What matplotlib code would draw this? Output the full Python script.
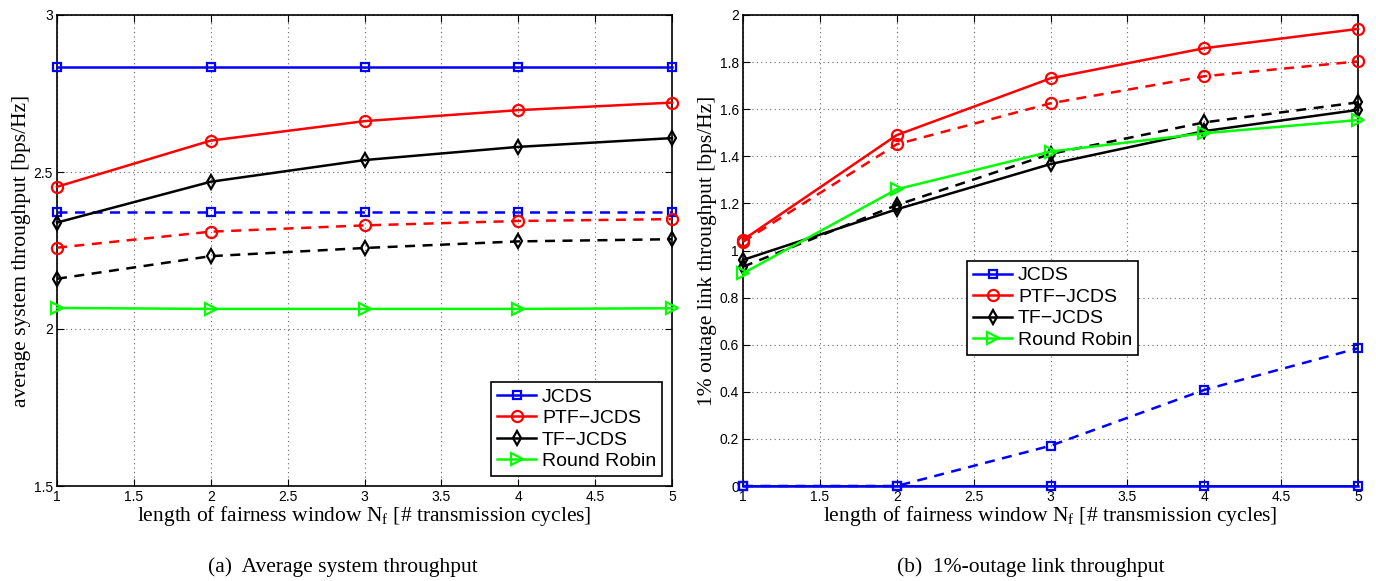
import matplotlib
matplotlib.use("Agg")
import matplotlib.pyplot as plt

plt.rcParams['font.family'] = ['Liberation Sans', 'DejaVu Sans']
plt.rcParams['mathtext.fontset'] = 'custom'
plt.rcParams['mathtext.rm'] = 'Liberation Serif'
plt.rcParams['mathtext.it'] = 'Liberation Serif:italic'

nf = [1, 2, 3, 4, 5]

# (a) average system throughput
avg_jcds = [2.835, 2.835, 2.835, 2.835, 2.835]
avg_jcds_d = [2.373, 2.373, 2.373, 2.373, 2.373]
avg_ptf = [2.453, 2.600, 2.662, 2.697, 2.721]
avg_ptf_d = [2.259, 2.310, 2.330, 2.344, 2.350]
avg_tf = [2.339, 2.469, 2.538, 2.580, 2.608]
avg_tf_d = [2.160, 2.232, 2.258, 2.279, 2.286]
avg_rr = [2.067, 2.064, 2.064, 2.064, 2.066]

# (b) 1%-outage link throughput
out_jcds = [0, 0, 0, 0, 0]
out_jcds_d = [0, 0, 0.171, 0.408, 0.585]
out_ptf = [1.045, 1.490, 1.731, 1.859, 1.941]
out_ptf_d = [1.037, 1.451, 1.625, 1.740, 1.803]
out_tf = [0.960, 1.175, 1.367, 1.507, 1.597]
out_tf_d = [0.931, 1.193, 1.410, 1.544, 1.629]
out_rr = [0.903, 1.260, 1.420, 1.498, 1.554]

names = ['JCDS', 'PTF\u2212JCDS', 'TF\u2212JCDS', 'Round Robin']
colors = ['#0000ff', '#ff0000', '#000000', '#00ff00']
markers = ['s', 'o', 'd', '>']
msizes = [6, 8, 7, 8]

serif = 'Liberation Serif'
xlab = r'length of fairness window N$_\mathrm{f}$ [# transmission cycles]'

fig = plt.figure(figsize=(13.76, 5.81), dpi=100)
ax1 = fig.add_axes([57 / 1376, 1 - 486 / 581, 615 / 1376, 471 / 581])
ax2 = fig.add_axes([743 / 1376, 1 - 486 / 581, 615 / 1376, 471 / 581])


def draw(ax, solid, dashed):
    handles = []
    for i in range(4):
        h, = ax.plot(nf, solid[i], color=colors[i], marker=markers[i], ms=msizes[i],
                     mfc='none', mew=1.6, lw=1.8, label=names[i], clip_on=False, zorder=3)
        handles.append(h)
        if dashed[i] is not None:
            ax.plot(nf, dashed[i], color=colors[i], marker=markers[i], ms=msizes[i],
                    mfc='none', mew=1.6, lw=1.8, ls=(0, (4, 3)), clip_on=False, zorder=3)
    ax.set_xlim(1, 5)
    ax.set_xticks([1, 1.5, 2, 2.5, 3, 3.5, 4, 4.5, 5])
    ax.set_xticklabels(['1', '1.5', '2', '2.5', '3', '3.5', '4', '4.5', '5'])
    ax.grid(True, ls=(0, (1, 3)), color='#666666', lw=0.8)
    ax.tick_params(direction='in', top=True, right=True, labelsize=10, length=5, pad=3)
    for s in ax.spines.values():
        s.set_linewidth(1.2)
    ax.set_xlabel(xlab, family=serif, fontsize=15.5, labelpad=0)
    return handles


h1 = draw(ax1, [avg_jcds, avg_ptf, avg_tf, avg_rr], [avg_jcds_d, avg_ptf_d, avg_tf_d, None])
ax1.set_ylim(1.5, 3)
ax1.set_yticks([1.5, 2, 2.5, 3])
ax1.set_yticklabels(['1.5', '2', '2.5', '3'])
ax1.set_ylabel('average system throughput [bps/Hz]', family=serif, fontsize=15.5, labelpad=2)
leg1 = ax1.legend(handles=h1, loc='lower right', bbox_to_anchor=(0.9837, 0.0212),
                  borderaxespad=0, fontsize=14, fancybox=False,
                  edgecolor='black', framealpha=1, handlelength=2.0, borderpad=0.3,
                  labelspacing=0.2, handletextpad=0.3)
leg1.get_frame().set_linewidth(1.2)

h2 = draw(ax2, [out_jcds, out_ptf, out_tf, out_rr], [out_jcds_d, out_ptf_d, out_tf_d, None])
ax2.set_ylim(0, 2)
ax2.set_yticks([0, 0.2, 0.4, 0.6, 0.8, 1, 1.2, 1.4, 1.6, 1.8, 2])
ax2.set_yticklabels(['0', '0.2', '0.4', '0.6', '0.8', '1', '1.2', '1.4', '1.6', '1.8', '2'])
ax2.set_ylabel('1% outage link throughput [bps/Hz]', family=serif, fontsize=15.5, labelpad=2)
leg2 = ax2.legend(handles=h2, loc='upper left', bbox_to_anchor=(0.365, 0.478),
                  borderaxespad=0, fontsize=14, fancybox=False, edgecolor='black',
                  framealpha=1, handlelength=2.0, borderpad=0.3, labelspacing=0.2,
                  handletextpad=0.3)
leg2.get_frame().set_linewidth(1.2)

fig.text(343 / 1376, 1 - 567 / 581, '(a)  Average system throughput', family=serif,
         fontsize=15.5, ha='center', va='center')
fig.text(1031 / 1376, 1 - 567 / 581, '(b)  1%-outage link throughput', family=serif,
         fontsize=15.5, ha='center', va='center')

fig.savefig('out.png', dpi=100)
